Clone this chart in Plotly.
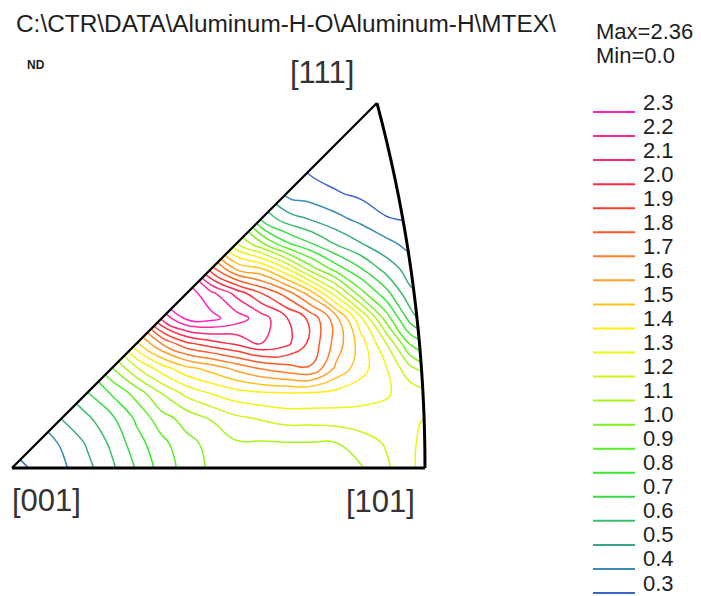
import numpy as np
import plotly.graph_objects as go

W, H = 701, 596

# ---------------------------------------------------------------- data
levels = [0.3, 0.4, 0.5, 0.6, 0.7, 0.8, 0.9, 1.0, 1.1, 1.2, 1.3,
          1.4, 1.5, 1.6, 1.7, 1.8, 1.9, 2.0, 2.1, 2.2, 2.3]
level_colors = ["#3a66cf", "#3a8cb4", "#3aa58e", "#3abf6a", "#3ad84a", "#36ea30",
                "#5af024", "#80f020", "#a8f51a", "#ccf515", "#eef510", "#ffee10",
                "#ffc21a", "#ffa028", "#ff7d28", "#ff5a28", "#ff3a30", "#ff2a45",
                "#ff2a6e", "#ff2a9a", "#ff22cc"]
max_value = 2.36
min_value = 0.0
title_text = "C:\\CTR\\DATA\\Aluminum-H-O\\Aluminum-H\\MTEX\\"
ref_dir = "ND"
corner_labels = ["[001]", "[101]", "[111]"]

# sample grid in the stereographic plane
grid_x = [0.000, 0.025, 0.050, 0.075, 0.100, 0.125, 0.150, 0.175, 0.200,
          0.225, 0.250, 0.275, 0.300, 0.325, 0.350, 0.375, 0.400, 0.425]
grid_y = [0.000, 0.025, 0.050, 0.075, 0.100, 0.125, 0.150, 0.175,
          0.200, 0.225, 0.250, 0.275, 0.300, 0.325, 0.350, 0.375]

# intensity (mrd); each row starts on the [001]-[111] edge (x == y)
# and runs outwards past the [101]-[111] arc
density_rows = [
    [0.26, 0.32, 0.38, 0.47, 0.58, 0.71, 0.84, 0.94, 1.02, 1.05, 1.06, 1.06, 1.07, 1.08, 1.09, 1.18, 1.28, 1.39],
    [0.35, 0.41, 0.51, 0.62, 0.76, 0.87, 0.97, 1.03, 1.09, 1.09, 1.095, 1.095, 1.098, 1.15, 1.21, 1.28, 1.37],
    [0.505, 0.58, 0.68, 0.82, 0.96, 1.04, 1.11, 1.18, 1.21, 1.24, 1.24, 1.25, 1.26, 1.27, 1.28, 1.32],
    [0.69, 0.81, 0.94, 1.102, 1.23, 1.305, 1.36, 1.385, 1.395, 1.39, 1.37, 1.34, 1.31, 1.26, 1.22],
    [0.99, 1.19, 1.35, 1.47, 1.54, 1.63, 1.71, 1.76, 1.79, 1.58, 1.44, 1.31, 1.12, 1.01],
    [1.48, 1.705, 1.88, 1.96, 2.02, 2.10, 2.03, 1.87, 1.66, 1.45, 1.205, 0.88, 0.77],
    [2.12, 2.32, 2.33, 2.25, 2.15, 2.01, 1.87, 1.64, 1.32, 0.96, 0.65, 0.47],
    [2.36, 2.23, 2.07, 1.905, 1.76, 1.55, 1.25, 0.94, 0.74, 0.52, 0.47],
    [1.84, 1.58, 1.505, 1.305, 1.04, 0.85, 0.705, 0.56, 0.45, 0.40],
    [1.21, 1.02, 0.82, 0.705, 0.59, 0.505, 0.43, 0.365, 0.34],
    [0.68, 0.55, 0.49, 0.43, 0.37, 0.305, 0.29, 0.27],
    [0.38, 0.35, 0.31, 0.28, 0.26, 0.24, 0.22],
    [0.28, 0.25, 0.20, 0.18, 0.18, 0.16],
    [0.15, 0.12, 0.10, 0.10, 0.10],
    [0.00, 0.02, 0.05, 0.05],
    [0.00, 0.00, 0.00],
]

# ------------------------------------------------------------ field grid
ny, nx = len(grid_y), len(grid_x)
Z = np.full((ny, nx), np.nan)
for j, row in enumerate(density_rows):
    Z[j, j:j + len(row)] = row
# the [001]-[111] edge is a mirror line: fill the other side by symmetry
for j in range(ny):
    for i in range(j):
        Z[j, i] = Z[i, j]

# ------------------------------------------------------------- geometry
SCALE = 997.0            # px per stereographic unit
OX, OY = 12.0, 468.0     # pixel position of [001]
x_range = [-OX / SCALE, (W - OX) / SCALE]
y_range = [-(H - OY) / SCALE, OY / SCALE]

t = np.linspace(0, 1, 80)
den = np.sqrt(2 + t ** 2) + 1
arc_x, arc_y = 1 / den, t / den          # great circle [101]-[111]

def px(xp):
    return xp / W

def py(yp):
    return 1 - yp / H

FONT = "Arial, Liberation Sans, sans-serif"
TXT = "#1e1e1e"

fig = go.Figure()
for lev, col in zip(levels, level_colors):
    fig.add_trace(go.Contour(
        x=grid_x, y=grid_y, z=Z,
        contours=dict(start=lev, end=lev, size=0.1, coloring="none"),
        line=dict(color=col, width=1.5, smoothing=1.3),
        showscale=False, hoverinfo="skip"))

shapes = []
tri = " ".join(f"L {a:.5f},{b:.5f}" for a, b in zip(arc_x, arc_y))
mask = "M -1,-1 L 2,-1 L 2,2 L -1,2 Z M 0,0 " + tri + " Z"
shapes.append(dict(type="path", path=mask, xref="x", yref="y", fillcolor="white",
                   fillrule="evenodd", line=dict(width=0), layer="above"))
shapes.append(dict(type="line", x0=0, y0=0, x1=arc_x[0], y1=0, xref="x", yref="y",
                   line=dict(color="black", width=3), layer="above"))
shapes.append(dict(type="line", x0=0, y0=0, x1=arc_x[-1], y1=arc_y[-1], xref="x", yref="y",
                   line=dict(color="black", width=2.2), layer="above"))
arc_path = f"M {arc_x[0]:.5f},{arc_y[0]:.5f} " + " ".join(
    f"L {a:.5f},{b:.5f}" for a, b in zip(arc_x[1:], arc_y[1:]))
shapes.append(dict(type="path", path=arc_path, xref="x", yref="y",
                   line=dict(color="black", width=3), layer="above"))

annotations = []
# legend of contour levels, highest first
for k, (lev, col) in enumerate(zip(levels[::-1], level_colors[::-1])):
    yl = 112 + 24.05 * k
    shapes.append(dict(type="line", xref="paper", yref="paper",
                       x0=px(593), x1=px(635), y0=py(yl), y1=py(yl),
                       line=dict(color=col, width=2), layer="above"))
    annotations.append(dict(x=px(642), y=py(yl - 10), xref="paper", yref="paper",
                            text=f"{lev:.1f}", showarrow=False, xanchor="left",
                            yanchor="middle", borderpad=0,
                            font=dict(family=FONT, size=22, color=TXT)))

annotations += [
    dict(x=px(14), y=py(24), text=title_text, xanchor="left", yanchor="middle",
         font=dict(family=FONT, size=24.4, color=TXT)),
    dict(x=px(36), y=py(65), text=f"<b>{ref_dir}</b>", xanchor="center", yanchor="middle",
         font=dict(family=FONT, size=12, color=TXT)),
    dict(x=px(594), y=py(31), text=f"Max={max_value}", xanchor="left", yanchor="middle",
         font=dict(family=FONT, size=22, color=TXT)),
    dict(x=px(594), y=py(55), text=f"Min={min_value}", xanchor="left", yanchor="middle",
         font=dict(family=FONT, size=22, color=TXT)),
    dict(x=px(46), y=py(500), text=corner_labels[0], xanchor="center", yanchor="middle",
         font=dict(family=FONT, size=31, color="#333")),
    dict(x=px(380), y=py(501), text=corner_labels[1], xanchor="center", yanchor="middle",
         font=dict(family=FONT, size=31, color="#333")),
    dict(x=px(322), y=py(72), text=corner_labels[2], xanchor="center", yanchor="middle",
         font=dict(family=FONT, size=31, color="#333")),
]
for a in annotations:
    a.setdefault("xref", "paper")
    a.setdefault("yref", "paper")
    a.setdefault("showarrow", False)

fig.update_layout(
    width=W, height=H, margin=dict(l=0, r=0, t=0, b=0),
    paper_bgcolor="white", plot_bgcolor="white",
    xaxis=dict(range=x_range, visible=False, fixedrange=True),
    yaxis=dict(range=y_range, visible=False, fixedrange=True),
    shapes=shapes, annotations=annotations, showlegend=False,
)
fig.write_html("out.html")
